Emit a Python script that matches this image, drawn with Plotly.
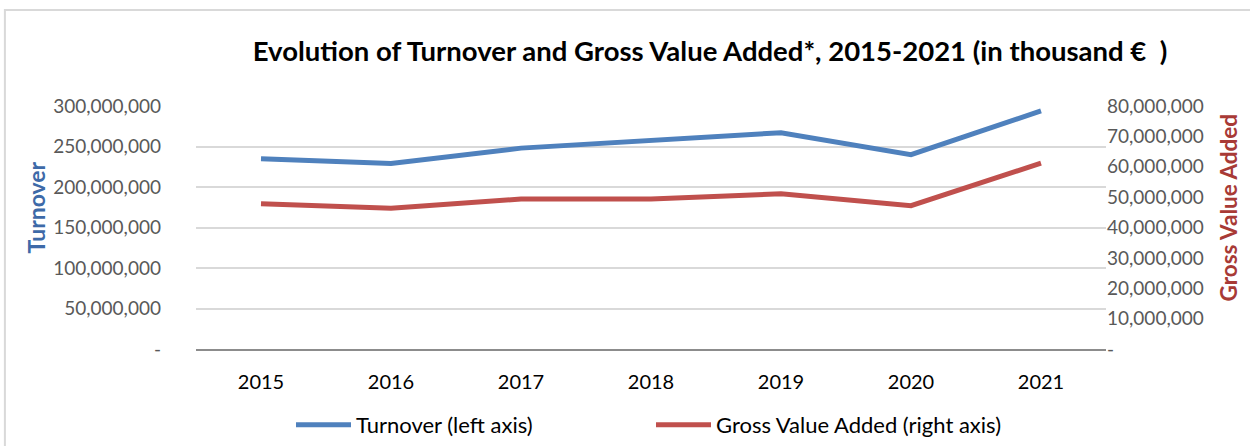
import plotly.graph_objects as go

years = ["2015", "2016", "2017", "2018", "2019", "2020", "2021"]
turnover = [235e6, 229e6, 248e6, 258e6, 267e6, 240e6, 294e6]
gva = [47.8e6, 46.3e6, 49.4e6, 49.4e6, 51.1e6, 47.2e6, 61.2e6]

left_ticks = [0, 50e6, 100e6, 150e6, 200e6, 250e6, 300e6]
left_text = ["-", "50,000,000", "100,000,000", "150,000,000", "200,000,000", "250,000,000", "300,000,000"]
right_ticks = [0, 10e6, 20e6, 30e6, 40e6, 50e6, 60e6, 70e6, 80e6]
right_text = ["-", "10,000,000", "20,000,000", "30,000,000", "40,000,000", "50,000,000", "60,000,000", "70,000,000", "80,000,000"]

FONT = "Lato, Noto Sans, sans-serif"

fig = go.Figure()
fig.add_trace(go.Scatter(x=years, y=turnover, mode="lines", name="Turnover (left axis)",
                         line=dict(color="#4F81BD", width=5), yaxis="y"))
fig.add_trace(go.Scatter(x=years, y=gva, mode="lines", name="Gross Value Added (right axis)",
                         line=dict(color="#C0504D", width=5), yaxis="y2"))

fig.update_layout(
    width=1250, height=446,
    margin=dict(l=196, r=144, t=106, b=97, autoexpand=False),
    paper_bgcolor="white", plot_bgcolor="white",
    font=dict(family=FONT, color="#595959", size=19),
    title=dict(text="<b>Evolution of Turnover and Gross Value Added*, 2015-2021 (in thousand €  )</b>",
               x=0.568, xanchor="center", y=0.885, yanchor="middle",
               font=dict(family=FONT, size=27.5, color="black")),
    xaxis=dict(type="category", range=[-0.5, 6.5], showgrid=False,
               showline=True, linecolor="#8C8C8C", linewidth=2,
               ticks="", tickfont=dict(color="black", size=20), ticklabelstandoff=14),
    yaxis=dict(range=[0, 300e6], tickvals=left_ticks, ticktext=left_text,
               showgrid=True, gridcolor="#D9D9D9", gridwidth=2, zeroline=False,
               ticks="", ticklabelstandoff=34),
    yaxis2=dict(range=[0, 80e6], tickvals=right_ticks, ticktext=right_text,
                overlaying="y", side="right", showgrid=False, zeroline=False,
                ticks="", ticklabelstandoff=0),
    legend=dict(orientation="h", x=0.5, xanchor="center", yref="container", y=0.047, yanchor="middle",
                font=dict(color="black", size=22), entrywidth=290, itemwidth=55),
    showlegend=True,
)

fig.add_annotation(text="<b>Turnover</b>", xref="paper", yref="paper", x=0.0, y=0.5,
                   xanchor="center", yanchor="middle",
                   xshift=-161, yshift=20, textangle=-90, showarrow=False,
                   font=dict(family=FONT, size=23, color="#3E6AA8"))
fig.add_annotation(text="<b>Gross Value Added</b>", xref="paper", yref="paper", x=1.0, y=0.5,
                   xanchor="center", yanchor="middle",
                   xshift=122, yshift=20, textangle=-90, showarrow=False,
                   font=dict(family=FONT, size=22.5, color="#A83A36"))

fig.add_shape(type="rect", xref="paper", yref="paper", x0=-0.21, x1=1.2, y0=-0.5, y1=1.395,
              line=dict(color="#D9D9D9", width=2), fillcolor="rgba(0,0,0,0)", layer="below")

fig.write_html("out.html", config={"displayModeBar": False},
               post_script="document.body.style.margin='0';window.dispatchEvent(new Event('resize'));")
